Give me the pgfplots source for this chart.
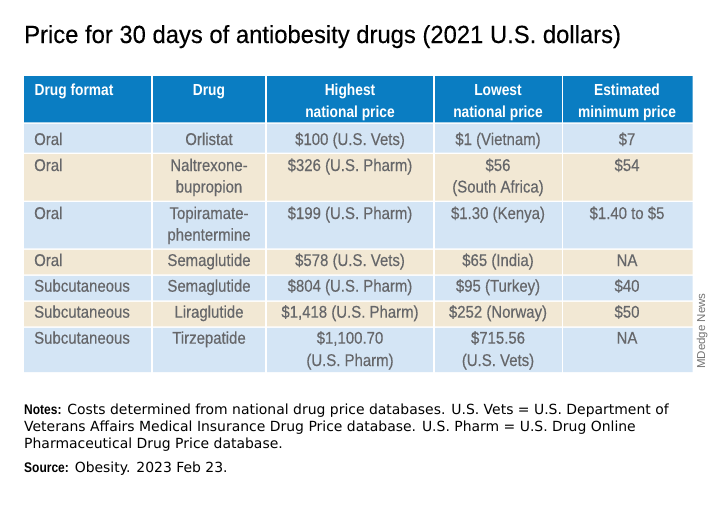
\documentclass[border=0pt]{standalone}
\usepackage{pgfplots}
\pgfplotsset{compat=1.18}
\usepackage{fontspec}
\setmainfont{Liberation Sans}
\newfontfamily\condfont{Liberation Sans}[FakeStretch=0.88, FakeBold=0.4]
\newfontfamily\hdfont{Liberation Sans}[FakeStretch=0.86]
\newfontfamily\titlefont{Liberation Sans}[FakeStretch=0.96, FakeBold=0.3]
\newfontfamily\notefont{DejaVu Sans}
\definecolor{hdr}{HTML}{0A7DC2}
\definecolor{lblue}{HTML}{D4E5F5}
\definecolor{beige}{HTML}{F2E8D4}
\definecolor{txt}{HTML}{66676A}
\tikzset{
  hd/.style={anchor=base, inner sep=0pt, text=white, font=\hdfont\bfseries\fontsize{16}{18}\selectfont},
  bd/.style={anchor=base, inner sep=0pt, text=txt, font=\condfont\fontsize{17}{20}\selectfont},
  nt/.style={anchor=base west, inner sep=0pt, text=black, font=\notefont\fontsize{13.95}{16}\selectfont}}
\newcommand{\band}[3]{\addplot[fill=#3,draw=none,forget plot] coordinates {(24,#1) (692.5,#1) (692.5,#2) (24,#2) (24,#1)};}
\begin{document}
\begin{tikzpicture}
\begin{axis}[hide axis, scale only axis, width=720pt, height=504pt,
  xmin=0, xmax=720, ymin=0, ymax=504, y dir=reverse, clip=false]
\fill[white] (axis cs:0,0) rectangle (axis cs:720,504);
% row bands
\band{76}{122.3}{hdr}
\band{123.8}{152.7}{lblue}
\band{154.2}{200.7}{beige}
\band{202.2}{248.3}{lblue}
\band{249.8}{274.3}{beige}
\band{275.8}{300.3}{lblue}
\band{301.8}{326.3}{beige}
\band{327.8}{372}{lblue}
% column separators
\addplot[white, line width=1.5pt, forget plot] coordinates {(152,75) (152,373)};
\addplot[white, line width=1.5pt, forget plot] coordinates {(266,75) (266,373)};
\addplot[white, line width=1.5pt, forget plot] coordinates {(434,75) (434,373)};
\addplot[white, line width=1.5pt, forget plot] coordinates {(562.5,75) (562.5,373)};
% title
\node[anchor=base west, inner sep=0pt, text=black, font=\titlefont\fontsize{24.8}{28}\selectfont] at (axis cs:24,43) {Price for 30 days of antiobesity drugs (2021 U.S. dollars)};
% header
\node[hd, anchor=base west] at (axis cs:34.5,95) {Drug format};
\node[hd] at (axis cs:209,95) {Drug};
\node[hd] at (axis cs:350,95) {Highest};
\node[hd] at (axis cs:350,117.5) {national price};
\node[hd] at (axis cs:498,95) {Lowest};
\node[hd] at (axis cs:498,117.5) {national price};
\node[hd] at (axis cs:627,95) {Estimated};
\node[hd] at (axis cs:627,117.5) {minimum price};
% row 1
\node[bd, anchor=base west] at (axis cs:34,145) {Oral};
\node[bd] at (axis cs:209,145) {Orlistat};
\node[bd] at (axis cs:350,145) {\$100 (U.S. Vets)};
\node[bd] at (axis cs:498,145) {\$1 (Vietnam)};
\node[bd] at (axis cs:627,145) {\$7};
% row 2
\node[bd, anchor=base west] at (axis cs:34,171) {Oral};
\node[bd] at (axis cs:209,171) {Naltrexone-};
\node[bd] at (axis cs:209,192.5) {bupropion};
\node[bd] at (axis cs:350,171) {\$326 (U.S. Pharm)};
\node[bd] at (axis cs:498,171) {\$56};
\node[bd] at (axis cs:498,192.5) {(South Africa)};
\node[bd] at (axis cs:627,171) {\$54};
% row 3
\node[bd, anchor=base west] at (axis cs:34,219) {Oral};
\node[bd] at (axis cs:209,219) {Topiramate-};
\node[bd] at (axis cs:209,240.5) {phentermine};
\node[bd] at (axis cs:350,219) {\$199 (U.S. Pharm)};
\node[bd] at (axis cs:498,219) {\$1.30 (Kenya)};
\node[bd] at (axis cs:627,219) {\$1.40 to \$5};
% row 4
\node[bd, anchor=base west] at (axis cs:34,266) {Oral};
\node[bd] at (axis cs:209,266) {Semaglutide};
\node[bd] at (axis cs:350,266) {\$578 (U.S. Vets)};
\node[bd] at (axis cs:498,266) {\$65 (India)};
\node[bd] at (axis cs:627,266) {NA};
% row 5
\node[bd, anchor=base west] at (axis cs:34,291.7) {Subcutaneous};
\node[bd] at (axis cs:209,291.7) {Semaglutide};
\node[bd] at (axis cs:350,291.7) {\$804 (U.S. Pharm)};
\node[bd] at (axis cs:498,291.7) {\$95 (Turkey)};
\node[bd] at (axis cs:627,291.7) {\$40};
% row 6
\node[bd, anchor=base west] at (axis cs:34,317.7) {Subcutaneous};
\node[bd] at (axis cs:209,317.7) {Liraglutide};
\node[bd] at (axis cs:350,317.7) {\$1,418 (U.S. Pharm)};
\node[bd] at (axis cs:498,317.7) {\$252 (Norway)};
\node[bd] at (axis cs:627,317.7) {\$50};
% row 7
\node[bd, anchor=base west] at (axis cs:34,343.7) {Subcutaneous};
\node[bd] at (axis cs:209,343.7) {Tirzepatide};
\node[bd] at (axis cs:350,343.7) {\$1,100.70};
\node[bd] at (axis cs:350,366) {(U.S. Pharm)};
\node[bd] at (axis cs:498,343.7) {\$715.56};
\node[bd] at (axis cs:498,366) {(U.S. Vets)};
\node[bd] at (axis cs:627,343.7) {NA};
% side credit
\node[rotate=90, anchor=base west, inner sep=0pt, text=black!55, font=\fontsize{11.5}{12}\selectfont] at (axis cs:705,369) {MDedge News};
% notes
\node[nt] at (axis cs:24,414) {{\hdfont\bfseries Notes:} Costs determined from national drug price databases. U.S. Vets = U.S. Department of};
\node[nt] at (axis cs:24,431) {Veterans Affairs Medical Insurance Drug Price database. U.S. Pharm = U.S. Drug Online};
\node[nt] at (axis cs:24,448) {Pharmaceutical Drug Price database.};
\node[nt] at (axis cs:24,472) {{\hdfont\bfseries Source:} Obesity. 2023 Feb 23.};
\end{axis}
\end{tikzpicture}
\end{document}
